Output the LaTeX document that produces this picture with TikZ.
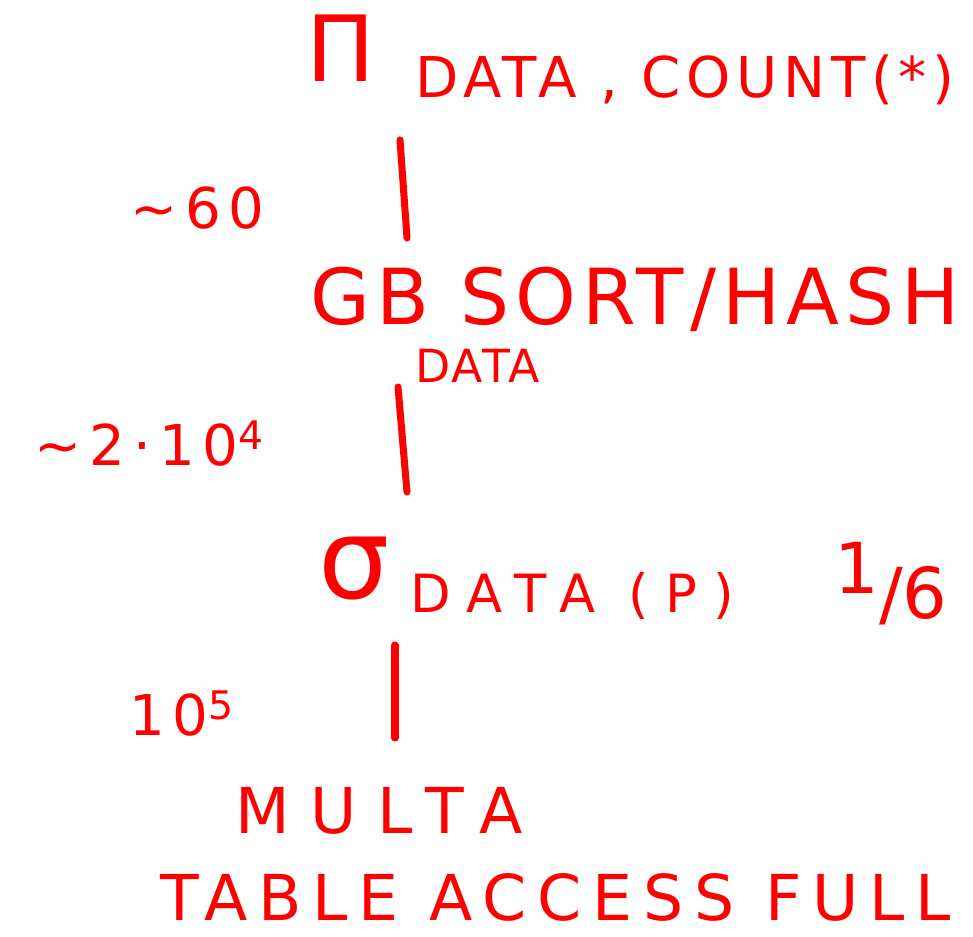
\documentclass[tikz,border=0pt]{standalone}
\usepackage{fontspec}
\setmainfont{DejaVu Sans}
\usepackage{tikz}
\usetikzlibrary{calc}
\definecolor{pen}{RGB}{255,0,0}
\newcommand{\spread}[1]{\addfontfeature{LetterSpace=#1}}

\begin{document}
\begin{tikzpicture}[x=0.02cm,y=-0.02cm,
  op/.style={text=pen,inner sep=0pt,anchor=base west},
  big/.style={op,font=\fontsize{44}{50}\selectfont\spread{8}},
  sub/.style={op,font=\fontsize{28}{32}\selectfont},
  card/.style={text=pen,inner sep=0pt,anchor=base east,font=\fontsize{32}{38}\selectfont\spread{14}},
  a/.style={draw=pen,line width=4pt,line cap=round}]
  \useasboundingbox (0,0) rectangle (973,936);
  % operators, top to bottom
  \node[op,font=\fontsize{52}{58}\selectfont] (proj) at (306,82) {Π};
  \node[sub,font=\fontsize{32}{36}\selectfont\spread{10}] (projsub) at (415,97) {DATA , COUNT(*)};
  \node[big] (gb) at (310,324) {GB SORT/HASH};
  \node[sub,font=\fontsize{26}{30}\selectfont\spread{5}] (gbsub) at (415,382) {DATA};
  \node[op,font=\fontsize{64}{70}\selectfont] (sel) at (318,598) {σ};
  \node[sub,font=\fontsize{30}{34}\selectfont\spread{31}] (selsub) at (410,612) {DATA (P)};
  \node[op,font=\fontsize{36}{42}\selectfont\spread{33}] (multa) at (235,833) {MULTA};
  \node[op,font=\fontsize{36}{42}\selectfont\spread{17}] (tafull) at (160,920) {TABLE ACCESS FULL};
  % cardinalities
  \node[card] (c60) at (265,228) {\textasciitilde 60};
  \node[card] (c2e4) at (265,465) {\textasciitilde 2·10\textsuperscript{4}};
  \node[card] (c1e5) at (235,735) {10\textsuperscript{5}};
  \node[card,font=\fontsize{40}{46}\selectfont] (frac) at (948,618) {\raisebox{0.35em}{1}/6};
  \draw[a] ($(projsub.base west)+(-15,43)$) -- ($(gb.base west)+(97,-86)$);
  \draw[a] ($(gbsub.base west)+(-17,5)$) -- ($(sel.base west)+(89,-106)$);
  \draw[a] ($(sel.base west)+(77,47)$) -- ($(multa.base west)+(160,-95)$);
\end{tikzpicture}
\end{document}
